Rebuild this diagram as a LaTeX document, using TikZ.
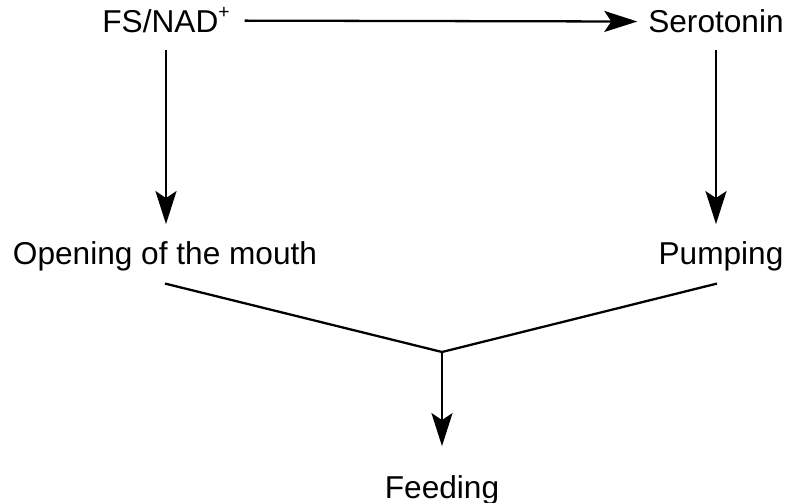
\documentclass[tikz,border=0pt]{standalone}
\usepackage{fontspec}
\setmainfont{Liberation Sans}
\usetikzlibrary{arrows.meta}
\begin{document}
\begin{tikzpicture}[x=0.02cm, y=-0.02cm]
\tikzset{ >={Stealth[length=0.66cm, width=0.42cm, inset=0.14cm]}, inner sep=0pt, outer sep=0pt,
  lbl/.style={anchor=base, font=\fontsize{18}{22}\selectfont},
  link/.style={line width=1.3pt} }

\useasboundingbox (0,0) rectangle (791,503);

\node [lbl] (fs)    at (166,33)  {FS/NAD\raisebox{0.45em}{\fontsize{11}{11}\selectfont +}};
\node [lbl] (sero)  at (716,33)  {Serotonin};
\node [lbl] (mouth) at (165,265) {Opening of the mouth};
\node [lbl] (pump)  at (721,265) {Pumping};
\node [lbl] (feed)  at (442,498) {Feeding};

\coordinate (join) at (442,352);

\draw [->, link, shorten <=0.3cm, shorten >=0.22cm] (fs) -- (sero);
\draw [->, link, shorten <=0.34cm, shorten >=0.36cm] (fs.south) -- (mouth.north -| fs.south);
\draw [->, link, shorten <=0.34cm, shorten >=0.36cm] (sero.south) -- (pump.north -| sero.south);

\draw [link] ([yshift=-0.24cm]mouth.south) -- (join);
\draw [link] ([xshift=-0.08cm, yshift=-0.24cm]pump.south) -- (join);
\draw [->, link, shorten >=0.58cm] (join) -- (feed.north);

\end{tikzpicture}
\end{document}
